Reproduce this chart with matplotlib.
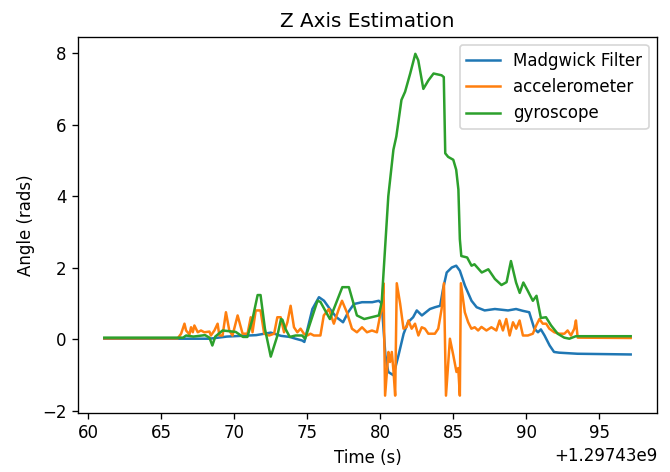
import numpy as np
import matplotlib
matplotlib.use("Agg")
import matplotlib.pyplot as plt

# time offset (s) and readings
t0 = 1297430000

madgwick_t = [61.1, 66.5, 68.3, 69.5, 70.5, 71.5, 72.5, 73.2, 73.8, 74.2, 74.65, 74.8,
              75.35, 75.8, 76.15, 76.55, 77.0, 77.45, 77.8, 78.2, 78.75, 79.45, 79.9,
              80.1, 80.35, 80.55, 80.9, 81.25, 81.6, 81.9, 82.25, 82.5, 82.85, 83.4,
              83.75, 84.1, 84.3, 84.55, 84.9, 85.2, 85.45, 85.8, 86.25, 86.6, 87.15,
              87.85, 88.75, 89.3, 89.75, 90.2, 90.55, 90.8, 91.0, 91.25, 91.6, 91.9,
              92.25, 93.5, 97.15]
madgwick_z = [0.02, 0.02, 0.02, 0.08, 0.1, 0.12, 0.19, 0.1, 0.07, 0.02, -0.03, -0.07,
              0.85, 1.18, 1.08, 0.85, 0.62, 0.48, 0.76, 0.99, 1.04, 1.04, 1.08,
              1.0, -0.44, -0.91, -1.0, -0.44, 0.16, 0.48, 0.62, 0.81, 0.67, 0.85,
              0.9, 0.94, 1.41, 1.87, 2.01, 2.06, 1.92, 1.5, 1.08, 0.9, 0.81,
              0.85, 0.81, 0.85, 0.8, 0.76, 0.3, 0.2, 0.28, 0.11, -0.17, -0.35,
              -0.37, -0.4, -0.42]

accel_t = [61.1, 66.13, 66.36, 66.59, 66.7, 66.93, 67.04, 67.16, 67.27, 67.5, 67.72,
           67.95, 68.3, 68.4, 68.64, 68.86, 68.98, 69.2, 69.43, 69.66, 69.88, 70.23,
           70.57, 70.91, 71.13, 71.25, 71.47, 71.8, 72.05, 72.39, 72.73, 72.95, 73.18,
           73.41, 73.64, 73.86, 74.09, 74.32, 74.54, 74.77, 75.0, 75.22, 75.45, 75.9,
           76.13, 76.48, 76.82, 77.16, 77.38, 77.72, 78.06, 78.4, 78.75, 79.09, 79.43,
           79.77, 79.99, 80.11, 80.22, 80.33, 80.56, 80.67, 80.79, 80.91, 81.02, 81.13,
           81.36, 81.59, 81.81, 81.93, 82.15, 82.38, 82.61, 82.84, 83.06, 83.29, 83.74,
           83.97, 84.2, 84.36, 84.5, 84.77, 85.0, 85.22, 85.34, 85.45, 85.52, 85.79,
           86.02, 86.24, 86.47, 86.7, 86.93, 87.27, 87.61, 87.95, 88.17, 88.4, 88.63,
           88.86, 89.09, 89.31, 89.54, 89.77, 90.11, 90.45, 90.68, 90.9, 91.13, 91.36,
           91.58, 91.92, 92.26, 92.61, 92.83, 93.06, 93.29, 93.4, 93.52, 97.15]
accel_z = [0.03, 0.03, 0.16, 0.44, 0.25, 0.14, 0.34, 0.2, 0.39, 0.2, 0.25,
           0.2, 0.22, 0.11, 0.25, 0.44, 0.11, 0.11, 0.76, 0.25, 0.11, 0.67,
           0.16, 0.16, 0.62, 0.2, 0.81, 0.81, 0.16, 0.11, 0.16, 0.62, 0.62,
           0.2, 0.48, 0.94, 0.34, 0.2, 0.3, 0.16, 0.11, 0.16, 0.11, 0.11,
           0.67, 0.85, 0.44, 0.85, 1.08, 0.75, 0.3, 0.2, 0.34, 0.2, 0.25,
           0.2, 0.67, 0.85, 1.57, -1.57, -0.35, -0.63, -0.35, -0.91, -1.57, 1.57,
           1.0, 0.3, 0.35, 0.53, 0.3, 0.44, 0.11, 0.34, 0.3, 0.16, 0.16,
           0.3, 0.85, 1.57, -1.57, 0.02, -0.44, -0.91, -0.8, -1.57, 1.57, 0.76,
           0.48, 0.3, 0.34, 0.25, 0.35, 0.25, 0.34, 0.25, 0.53, 0.25, 0.57,
           0.11, 0.48, 0.3, 0.53, 0.11, 0.11, 0.16, 0.39, 0.57, 0.44, 0.44,
           0.3, 0.2, 0.16, 0.16, 0.25, 0.11, 0.3, 0.53, 0.05, 0.04]

gyro_t = [61.1, 66.5, 66.7, 67.2, 67.6, 68.0, 68.3, 68.5, 68.7, 69.2, 70.1, 70.6,
          70.9, 71.25, 71.6, 71.8, 72.1, 72.5, 72.95, 73.2, 73.3, 73.5, 73.8, 74.2,
          74.65, 74.85, 75.7, 75.9, 76.55, 77.4, 77.85, 78.4, 78.9, 79.9, 80.1,
          80.55, 80.9, 81.1, 81.45, 81.7, 82.05, 82.4, 82.6, 82.95, 83.3, 83.65,
          84.2, 84.35, 84.45, 84.65, 85.0, 85.2, 85.35, 85.45, 85.55, 85.95, 86.25,
          86.45, 86.95, 87.4, 87.85, 88.3, 88.65, 88.95, 89.3, 89.55, 89.8, 90.1,
          90.45, 90.7, 91.0, 91.35, 91.7, 92.15, 92.6, 92.95, 93.4, 93.75, 97.15]
gyro_z = [0.05, 0.05, 0.11, 0.08, 0.1, 0.12, 0.05, -0.17, 0.08, 0.25, 0.21, 0.07,
          0.07, 0.57, 1.24, 1.24, 0.3, -0.48, 0.1, 0.57, 0.55, 0.3, 0.07, 0.11,
          0.11, 0.02, 1.08, 1.05, 0.57, 1.46, 1.46, 0.67, 0.57, 0.67, 1.05,
          4.0, 5.3, 5.67, 6.69, 6.92, 7.43, 7.98, 7.8, 7.0, 7.24, 7.43,
          7.38, 7.33, 5.2, 5.1, 5.02, 4.74, 4.19, 2.8, 2.33, 2.29, 2.06,
          2.1, 1.87, 1.96, 1.69, 1.52, 1.6, 2.19, 1.59, 1.3, 1.59, 1.36,
          1.08, 1.22, 0.6, 0.62, 0.39, 0.16, 0.05, 0.02, 0.09, 0.09, 0.09]

fig = plt.figure(figsize=(670 / 120, 472 / 120), dpi=120)
ax = fig.add_axes([0.1164, 0.1256, 0.8642, 0.7966])

ax.plot(t0 + np.array(madgwick_t), madgwick_z, label="Madgwick Filter")
ax.plot(t0 + np.array(accel_t), accel_z, label="accelerometer")
ax.plot(t0 + np.array(gyro_t), gyro_z, label="gyroscope")

ax.set_title("Z Axis Estimation")
ax.set_xlabel("Time (s)")
ax.set_ylabel("Angle (rads)")
ax.legend(loc="upper right")

fig.savefig("out.png", dpi=120)
